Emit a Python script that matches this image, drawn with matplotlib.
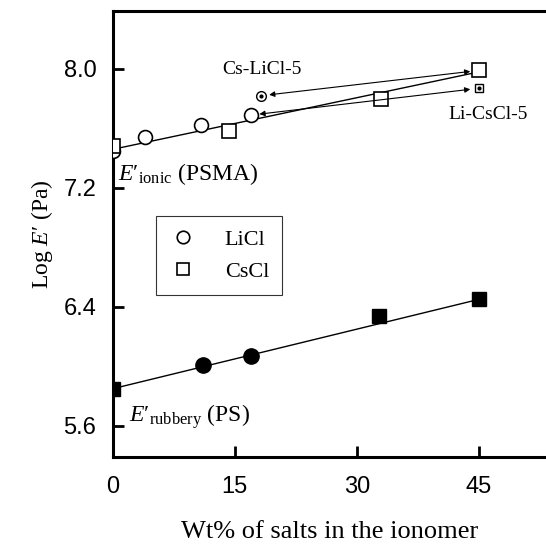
"""
Log E' vs wt% of salts in the ionomer (PSMA ionic / PS rubbery plateau).
"""
import matplotlib
matplotlib.use("Agg")
import matplotlib.pyplot as plt
from matplotlib.lines import Line2D

# ionic plateau (PSMA), open symbols
li_x = [0, 3.9, 10.8, 17.0]
li_y = [7.45, 7.54, 7.62, 7.69]
cs_x = [0, 14.3, 33.0, 45.0]
cs_y = [7.48, 7.58, 7.80, 7.99]
ionic_fit_x = [0, 45]
ionic_fit_y = [7.46, 7.98]

# mixed salt samples
mix_x = [18.2, 45.0]
mix_y = [7.82, 7.87]

# rubbery plateau (PS), filled symbols
rub_li_x = [11.1, 17.0]
rub_li_y = [6.01, 6.07]
rub_cs_x = [0, 32.8, 45.0]
rub_cs_y = [5.85, 6.34, 6.45]
rub_fit_x = [0, 45]
rub_fit_y = [5.85, 6.45]

xticks = [0, 15, 30, 45]
yticks = [5.6, 6.4, 7.2, 8.0]

serif = ["Liberation Serif", "DejaVu Serif"]
sans = ["Liberation Sans", "DejaVu Sans"]


def main():
    plt.rcParams["mathtext.fontset"] = "custom"
    plt.rcParams["mathtext.rm"] = "Liberation Serif"
    plt.rcParams["mathtext.it"] = "Liberation Serif:italic"

    fig = plt.figure(figsize=(5.46, 5.5), dpi=100)
    ax = fig.add_axes([0.207, 0.169, 0.793, 0.811])

    ax.plot(ionic_fit_x, ionic_fit_y, color="black", lw=1.0, zorder=1)
    ax.plot(rub_fit_x, rub_fit_y, color="black", lw=1.0, zorder=1)

    ms = 10
    ax.plot(li_x, li_y, "o", ms=ms, mfc="white", mec="black", mew=1.2, zorder=3)
    ax.plot(cs_x, cs_y, "s", ms=ms - 0.5, mfc="white", mec="black", mew=1.2, zorder=3)
    ax.plot(rub_li_x, rub_li_y, "o", ms=ms + 1, color="black", zorder=3)
    ax.plot(rub_cs_x, rub_cs_y, "s", ms=ms, color="black", zorder=3)

    # mixed-salt points: small open symbol with a dot inside
    ax.plot(mix_x[0], mix_y[0], "o", ms=7, mfc="white", mec="black", mew=1.0, zorder=3)
    ax.plot(mix_x[1], mix_y[1], "s", ms=6, mfc="white", mec="black", mew=1.0, zorder=3)
    ax.plot(mix_x, mix_y, ".", ms=4, color="black", zorder=4)

    arrow = dict(arrowstyle="<|-|>", color="black", lw=0.8, mutation_scale=8,
                 shrinkA=6, shrinkB=6)
    ax.annotate("", xy=(mix_x[0], mix_y[0]), xytext=(cs_x[-1], cs_y[-1]),
                arrowprops=arrow)
    ax.annotate("", xy=(li_x[-1], li_y[-1]), xytext=(mix_x[1], mix_y[1]),
                arrowprops=arrow)

    ax.text(13.4, 7.965, "Cs-LiCl-5", family=serif, fontsize=14)
    ax.text(41.3, 7.665, "Li-CsCl-5", family=serif, fontsize=14)
    prime = "\u2032"
    ax.text(0.6, 7.25, r"$\mathit{E}$" + prime + r"${}_{\mathrm{ionic}}$ (PSMA)",
            family=serif, fontsize=17)
    ax.text(2.0, 5.63, r"$\mathit{E}$" + prime + r"${}_{\mathrm{rubbery}}$ (PS)",
            family=serif, fontsize=17)

    ax.set_xlim(0, 53.3)
    ax.set_ylim(5.39, 8.39)
    ax.set_xticks(xticks)
    ax.set_yticks(yticks)
    ax.set_xticklabels([str(t) for t in xticks], family=sans, fontsize=17)
    ax.set_yticklabels(["%.1f" % t for t in yticks], family=sans, fontsize=17)
    ax.tick_params(direction="in", length=8, width=2, pad=12)
    ax.tick_params(axis="x", pad=14)
    for side in ["left", "bottom", "top"]:
        ax.spines[side].set_linewidth(2.2)
    ax.spines["right"].set_visible(False)

    ax.set_xlabel("Wt% of salts in the ionomer", family=serif, fontsize=19,
                  labelpad=16)
    ax.set_ylabel(r"Log $\mathit{E}$" + prime + " (Pa)", family=serif,
                  fontsize=17, labelpad=6)

    handles = [
        Line2D([], [], ls="", marker="o", ms=9, mfc="white", mec="black", mew=1.2),
        Line2D([], [], ls="", marker="s", ms=9, mfc="white", mec="black", mew=1.2),
    ]
    leg = ax.legend(handles, ["LiCl", "CsCl"], loc="upper left",
                    bbox_to_anchor=(0.099, 0.54), frameon=True, fancybox=False,
                    edgecolor="black", prop={"family": serif, "size": 16},
                    borderpad=0.6, handlelength=1.2, handletextpad=1.3,
                    labelspacing=0.5, borderaxespad=0)
    leg.get_frame().set_linewidth(0.8)

    fig.savefig("out.png", dpi=100)


if __name__ == "__main__":
    main()
